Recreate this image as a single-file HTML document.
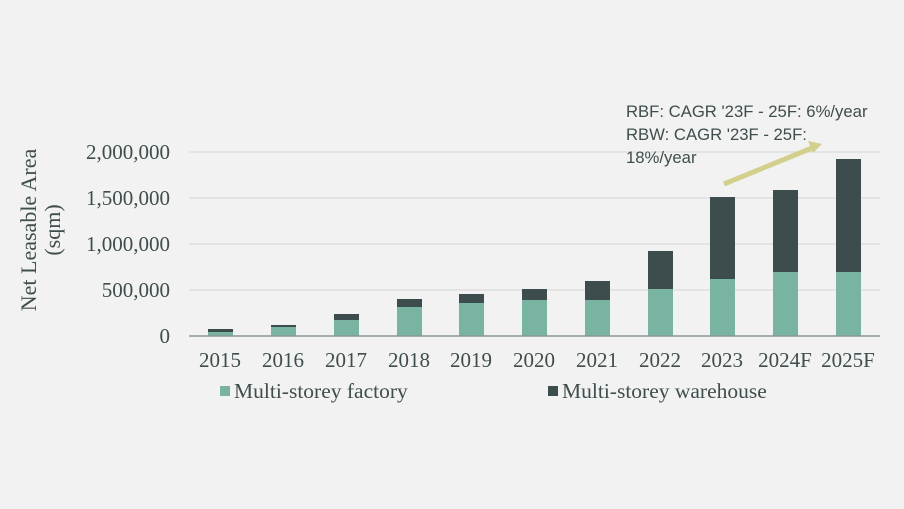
<!DOCTYPE html>
<html><head><meta charset="utf-8"><style>
html,body{margin:0;padding:0;background:#f2f2f2;}
svg{display:block;}
</style></head><body>
<svg width="904" height="509" viewBox="0 0 904 509" xmlns="http://www.w3.org/2000/svg">
<rect width="904" height="509" fill="#f2f2f2"/>
<g stroke="#dcdcdc" stroke-width="1.2">
<line x1="189" y1="152" x2="880" y2="152"/>
<line x1="189" y1="198" x2="880" y2="198"/>
<line x1="189" y1="244" x2="880" y2="244"/>
<line x1="189" y1="290" x2="880" y2="290"/>
</g>
<g font-family="Liberation Serif, serif" font-size="21" fill="#3f4d4d" text-anchor="end">
<text x="170" y="159">2,000,000</text>
<text x="170" y="205">1,500,000</text>
<text x="170" y="251">1,000,000</text>
<text x="170" y="297">500,000</text>
<text x="170" y="343">0</text>
</g>
<g font-family="Liberation Serif, serif" font-size="22" fill="#3f4d4d" text-anchor="middle">
<text transform="translate(36,230) rotate(-90)">Net Leasable Area</text>
<text transform="translate(60,230) rotate(-90)">(sqm)</text>
</g>
<g>
<rect x="208" y="329" width="25" height="3" fill="#3d4d4d"/><rect x="208" y="332" width="25" height="4" fill="#79b3a2"/>
<rect x="271" y="325" width="25" height="2" fill="#3d4d4d"/><rect x="271" y="327" width="25" height="9" fill="#79b3a2"/>
<rect x="334" y="314" width="25" height="6" fill="#3d4d4d"/><rect x="334" y="320" width="25" height="16" fill="#79b3a2"/>
<rect x="397" y="299" width="25" height="8" fill="#3d4d4d"/><rect x="397" y="307" width="25" height="29" fill="#79b3a2"/>
<rect x="459" y="294" width="25" height="9" fill="#3d4d4d"/><rect x="459" y="303" width="25" height="33" fill="#79b3a2"/>
<rect x="522" y="289" width="25" height="11" fill="#3d4d4d"/><rect x="522" y="300" width="25" height="36" fill="#79b3a2"/>
<rect x="585" y="281" width="25" height="19" fill="#3d4d4d"/><rect x="585" y="300" width="25" height="36" fill="#79b3a2"/>
<rect x="648" y="251" width="25" height="38" fill="#3d4d4d"/><rect x="648" y="289" width="25" height="47" fill="#79b3a2"/>
<rect x="710" y="197" width="25" height="82" fill="#3d4d4d"/><rect x="710" y="279" width="25" height="57" fill="#79b3a2"/>
<rect x="773" y="190" width="25" height="82" fill="#3d4d4d"/><rect x="773" y="272" width="25" height="64" fill="#79b3a2"/>
<rect x="836" y="159" width="25" height="113" fill="#3d4d4d"/><rect x="836" y="272" width="25" height="64" fill="#79b3a2"/>
</g>
<line x1="189" y1="336" x2="880" y2="336" stroke="#8a9696" stroke-width="1.5"/>
<g font-family="Liberation Serif, serif" font-size="21" fill="#3f4d4d" text-anchor="middle">
<text x="220" y="367">2015</text><text x="283" y="367">2016</text><text x="346" y="367">2017</text>
<text x="409" y="367">2018</text><text x="471" y="367">2019</text><text x="534" y="367">2020</text>
<text x="597" y="367">2021</text><text x="660" y="367">2022</text><text x="722" y="367">2023</text>
<text x="785" y="367">2024F</text><text x="848" y="367">2025F</text>
</g>
<rect x="220" y="386" width="10" height="10" fill="#79b3a2"/>
<rect x="548" y="386" width="10" height="10" fill="#3d4d4d"/>
<g font-family="Liberation Serif, serif" font-size="21.5" fill="#3f4d4d">
<text x="234" y="398">Multi-storey factory</text>
<text x="562" y="398">Multi-storey warehouse</text>
</g>
<line x1="724" y1="184" x2="812" y2="148" stroke="#d3cf8c" stroke-width="5"/>
<polygon points="822,144 808,141 813,153" fill="#d3cf8c"/>
<g font-family="Liberation Sans, sans-serif" font-size="16.7" fill="#3f4d4d">
<text x="626" y="117">RBF: CAGR '23F - 25F: 6%/year</text>
<text x="626" y="140">RBW: CAGR '23F - 25F:</text>
<text x="626" y="163">18%/year</text>
</g>
</svg>
</body></html>
